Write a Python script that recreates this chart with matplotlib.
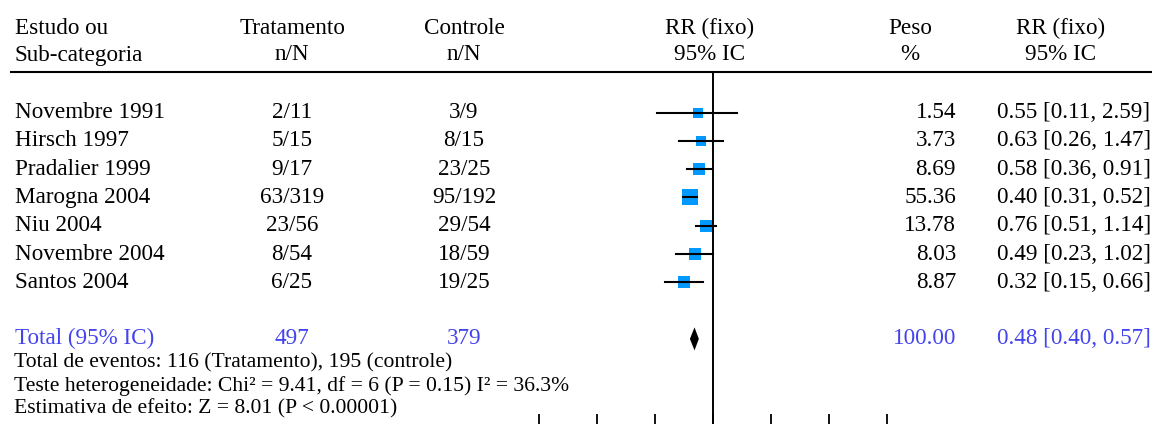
import matplotlib
matplotlib.use("Agg")
import matplotlib.pyplot as plt
import numpy as np

# forest plot data
studies = ["Novembre 1991", "Hirsch 1997", "Pradalier 1999", "Marogna 2004",
           "Niu 2004", "Novembre 2004", "Santos 2004"]
trat = ["2/11", "5/15", "9/17", "63/319", "23/56", "8/54", "6/25"]
ctrl = ["3/9", "8/15", "23/25", "95/192", "29/54", "18/59", "19/25"]
peso = [1.54, 3.73, 8.69, 55.36, 13.78, 8.03, 8.87]
rr = [0.55, 0.63, 0.58, 0.40, 0.76, 0.49, 0.32]
rr_lo = [0.11, 0.26, 0.36, 0.31, 0.51, 0.23, 0.15]
rr_hi = [2.59, 1.47, 0.91, 0.52, 1.14, 1.02, 0.66]

total_trat = 497
total_ctrl = 379
total_rr = 0.48
total_lo = 0.40
total_hi = 0.57

footer = [
    "Total de eventos: 116 (Tratamento), 195 (controle)",
    "Teste heterogeneidade: Chi² = 9.41, df = 6 (P = 0.15) I² = 36.3%",
    "Estimativa de efeito: Z = 8.01 (P < 0.00001)",
]
axis_ticks = [0.001, 0.01, 0.1, 1, 10, 100, 1000]

W, H = 1152, 424
plt.rcParams["font.family"] = ["Liberation Serif", "DejaVu Serif"]
fs = 16.7
fs_foot = 15.6
blue_txt = "#4444ee"
sq_col = "#0099ff"

fig = plt.figure(figsize=(W / 100, H / 100), dpi=100)

# text layer in pixel coordinates
tx = fig.add_axes([0, 0, 1, 1])
tx.set_xlim(0, W)
tx.set_ylim(H, 0)
tx.axis("off")

# forest panel: log scale, y in pixels like the text layer
x0, x1, ytop = 539, 887, 72
fx = fig.add_axes([x0 / W, -2 / H, (x1 - x0) / W, (H + 2 - ytop) / H])
fx.set_xscale("log")
fx.set_xlim(axis_ticks[0], axis_ticks[-1])
fx.set_ylim(H + 2, ytop)
fx.patch.set_alpha(0)
for s in fx.spines.values():
    s.set_visible(False)
fx.set_xticks(axis_ticks)
fx.set_xticklabels([])
fx.minorticks_off()
fx.tick_params(axis="x", direction="in", length=9, width=1.3, bottom=True)
fx.set_yticks([])

# header
tx.text(15, 28, "Estudo ou", fontsize=fs, va="center", ha="left")
tx.text(15, 55, "Sub-categoria", fontsize=fs, va="center", ha="left")
for xc, t1, t2 in [(292, "Tratamento", "n/N"), (464, "Controle", "n/N"),
                   (710, "RR (fixo)", "95% IC"), (910, "Peso", "%"),
                   (1061, "RR (fixo)", "95% IC")]:
    tx.text(xc, 28, t1, fontsize=fs, va="center", ha="center")
    tx.text(xc, 55, t2, fontsize=fs, va="center", ha="center")
tx.plot([10, W], [72, 72], color="black", lw=1.5, solid_capstyle="butt")

# line of no effect
fx.axvline(1, color="black", lw=1.4, zorder=1)

row0, dy = 112.5, 28.3
for i in range(len(studies)):
    y = row0 + dy * i
    tx.text(15, y, studies[i], fontsize=fs, va="center", ha="left")
    tx.text(292, y, trat[i], fontsize=fs, va="center", ha="center")
    tx.text(464, y, ctrl[i], fontsize=fs, va="center", ha="center")
    tx.text(956, y, f"{peso[i]:.2f}", fontsize=fs, va="center", ha="right")
    tx.text(997, y, f"{rr[i]:.2f} [{rr_lo[i]:.2f}, {rr_hi[i]:.2f}]",
            fontsize=fs, va="center", ha="left")
    side = 9 + 0.95 * np.sqrt(peso[i])  # square side in px
    fx.scatter([rr[i]], [y], marker="s", s=(side * 0.72) ** 2, color=sq_col,
               linewidths=0, zorder=2)
    fx.plot([rr_lo[i], rr_hi[i]], [y, y], color="black", lw=1.5, zorder=3)

# pooled estimate
yt = row0 + dy * 8
tx.text(15, yt, "Total (95% IC)", fontsize=fs, va="center", ha="left", color=blue_txt)
tx.text(292, yt, str(total_trat), fontsize=fs, va="center", ha="center", color=blue_txt)
tx.text(464, yt, str(total_ctrl), fontsize=fs, va="center", ha="center", color=blue_txt)
tx.text(956, yt, "100.00", fontsize=fs, va="center", ha="right", color=blue_txt)
tx.text(997, yt, f"{total_rr:.2f} [{total_lo:.2f}, {total_hi:.2f}]",
        fontsize=fs, va="center", ha="left", color=blue_txt)
fx.fill([total_lo, total_rr, total_hi, total_rr],
        [yt, yt - 11.5, yt, yt + 11.5], color="black", lw=0, zorder=3)

for k, line in enumerate(footer):
    tx.text(14, 363 + 23 * k, line, fontsize=fs_foot, va="center", ha="left")

fig.savefig("out.png", dpi=100)
